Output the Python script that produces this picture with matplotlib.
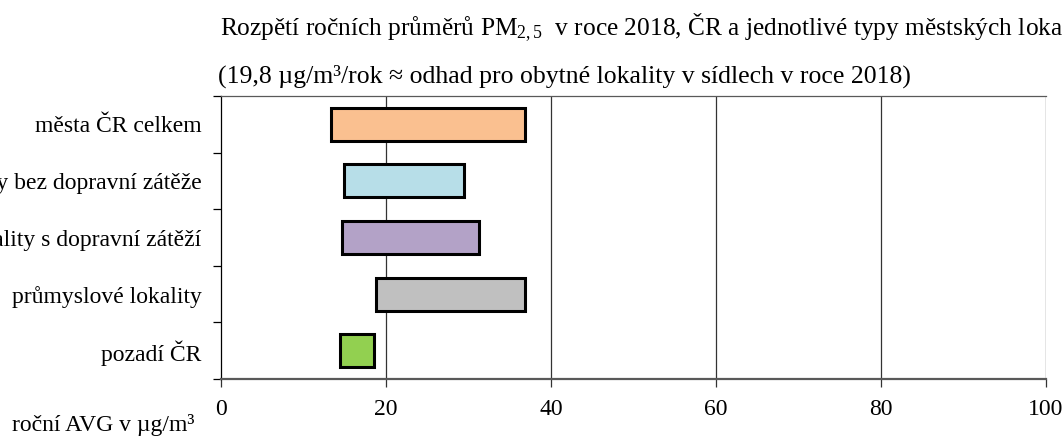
import matplotlib
matplotlib.use("Agg")
import matplotlib.pyplot as plt
import numpy as np

plt.rcParams['font.family'] = ['Liberation Serif', 'DejaVu Serif']
plt.rcParams['mathtext.fontset'] = 'custom'
plt.rcParams['mathtext.rm'] = 'Liberation Serif'
plt.rcParams['mathtext.it'] = 'Liberation Serif:italic'

categories = ["města ČR celkem", "lokality bez dopravní zátěže",
              "lokality s dopravní zátěží", "průmyslové lokality", "pozadí ČR"]
min_vals = [13.3, 14.9, 14.7, 18.75, 14.4]
max_vals = [36.8, 29.5, 31.3, 36.9, 18.5]
colors = ["#FAC090", "#B7DEE8", "#B3A2C7", "#C0C0C0", "#92D050"]
xticks = [0, 20, 40, 60, 80, 100]

title1 = "Rozpětí ročních průměrů PM$_{\\mathrm{2,5}}$  v roce 2018, ČR a jednotlivé typy městských lokalit"
title2 = "(19,8 µg/m³/rok ≈ odhad pro obytné lokality v sídlech v roce 2018)"
xlabel = "roční AVG v µg/m³"

W, H = 1062, 444
fig = plt.figure(figsize=(W / 100, H / 100), dpi=100)
ax = fig.add_axes([221 / W, 1 - 379 / H, (1046 - 221) / W, (379 - 96) / H])

y = np.arange(len(categories))
widths = [mx - mn for mn, mx in zip(min_vals, max_vals)]
ax.barh(y, widths, left=min_vals, height=0.58, color=colors,
        edgecolor="black", linewidth=2.2, zorder=3)

ax.set_xlim(0, 100)
ax.set_ylim(len(categories) - 0.5, -0.5)
ax.set_xticks(xticks)
ax.set_xticklabels([str(v) for v in xticks])
ax.set_yticks(y)
ax.set_yticklabels(categories)
ax.set_yticks(np.arange(-0.5, len(categories), 1.0), minor=True)

for v in xticks[1:]:
    ax.axvline(v, color="#333333", linewidth=0.9, zorder=1)

ax.tick_params(axis="y", which="major", length=0, pad=14, labelsize=17)
ax.tick_params(axis="y", which="minor", length=6, width=0.9, direction="out", color="black")
ax.tick_params(axis="x", which="major", length=6, width=0.9, direction="out",
               color="#333333", pad=8.5, labelsize=17)

ax.spines["left"].set_color("black")
ax.spines["left"].set_linewidth(0.9)
ax.spines["bottom"].set_color("#595959")
ax.spines["bottom"].set_linewidth(1.6)
ax.spines["top"].set_color("#595959")
ax.spines["top"].set_linewidth(0.9)
ax.spines["right"].set_visible(False)

fig.text(220 / W, 1 - 28 / H, title1, ha="left", va="center", fontsize=18.3)
fig.text(218 / W, 1 - 76 / H, title2, ha="left", va="center", fontsize=18.5)
fig.text(195 / W, 1 - 425 / H, xlabel, ha="right", va="center", fontsize=17)

fig.savefig("out.png", dpi=100)
